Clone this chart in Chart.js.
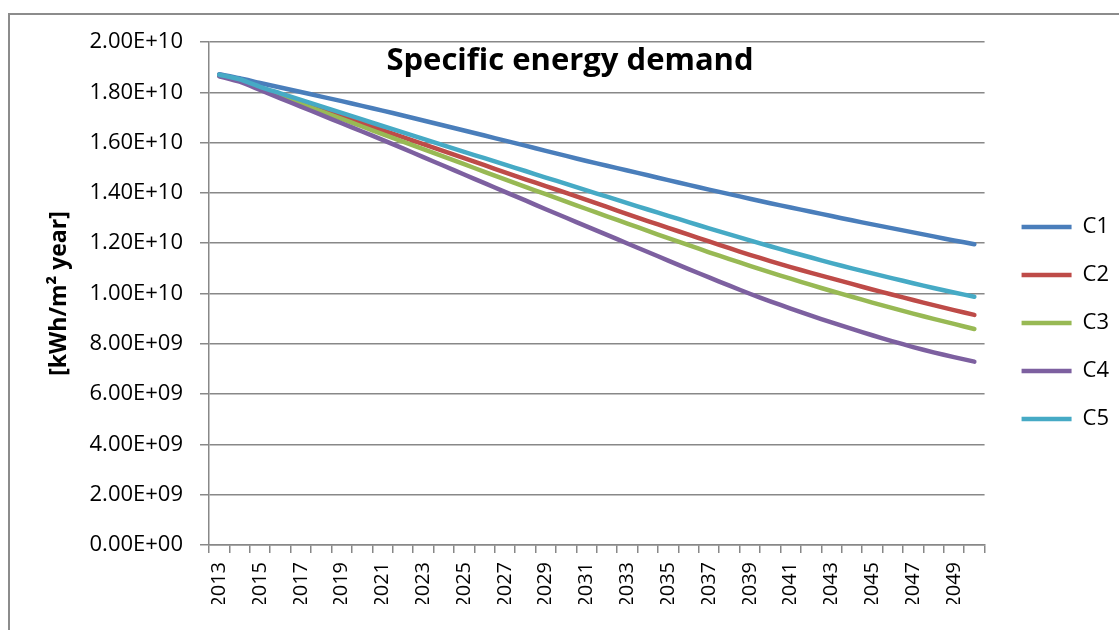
<!DOCTYPE html>
<html>
<head>
<meta charset="utf-8">
<title>Specific energy demand</title>
<script src="https://cdn.jsdelivr.net/npm/chart.js@4/dist/chart.umd.min.js"></script>
<style>
    html, body { margin: 0; padding: 0; background: #ffffff; overflow: hidden; }
    #frame {
        position: absolute;
        left: 8px;
        top: 13px;
        width: 1200px;
        height: 700px;
        border: 2px solid #8c8c8c;
    }
    #chart { position: absolute; left: 0; top: 0; }
</style>
</head>
<body>
<div id="frame"></div>
<canvas id="chart" width="1119" height="630"></canvas>
<script>
/* ---------- DATA ---------- */
let years = [];
for (let y = 2013; y <= 2050; y++) years.push(String(y));

let seriesNames = ["C1", "C2", "C3", "C4", "C5"];
let seriesColors = ["#4a7ebb", "#be4b48", "#98b954", "#7d60a0", "#46aac5"];

// kWh/m² year
let c1 = [18.72e9, 18.56e9, 18.37e9, 18.19e9, 18.01e9, 17.83e9, 17.65e9, 17.46e9, 17.27e9, 17.08e9,
          16.88e9, 16.68e9, 16.48e9, 16.28e9, 16.08e9, 15.88e9, 15.67e9, 15.47e9, 15.27e9, 15.08e9,
          14.89e9, 14.70e9, 14.51e9, 14.32e9, 14.13e9, 13.95e9, 13.77e9, 13.59e9, 13.42e9, 13.25e9,
          13.08e9, 12.91e9, 12.75e9, 12.59e9, 12.43e9, 12.27e9, 12.11e9, 11.96e9];
let c2 = [18.68e9, 18.48e9, 18.18e9, 17.90e9, 17.62e9, 17.34e9, 17.06e9, 16.78e9, 16.50e9, 16.22e9,
          15.94e9, 15.66e9, 15.38e9, 15.10e9, 14.82e9, 14.54e9, 14.27e9, 14.00e9, 13.72e9, 13.44e9,
          13.16e9, 12.88e9, 12.61e9, 12.34e9, 12.07e9, 11.80e9, 11.54e9, 11.29e9, 11.05e9, 10.82e9,
          10.60e9, 10.38e9, 10.16e9, 9.95e9, 9.74e9, 9.54e9, 9.34e9, 9.15e9];
let c3 = [18.66e9, 18.46e9, 18.14e9, 17.84e9, 17.54e9, 17.24e9, 16.94e9, 16.64e9, 16.34e9, 16.04e9,
          15.74e9, 15.44e9, 15.14e9, 14.84e9, 14.54e9, 14.24e9, 13.95e9, 13.65e9, 13.36e9, 13.07e9,
          12.78e9, 12.49e9, 12.20e9, 11.92e9, 11.64e9, 11.37e9, 11.10e9, 10.84e9, 10.59e9, 10.34e9,
          10.10e9, 9.87e9, 9.64e9, 9.42e9, 9.20e9, 8.99e9, 8.79e9, 8.59e9];
let c4 = [18.64e9, 18.42e9, 18.09e9, 17.76e9, 17.43e9, 17.10e9, 16.77e9, 16.44e9, 16.11e9, 15.77e9,
          15.42e9, 15.08e9, 14.73e9, 14.39e9, 14.04e9, 13.70e9, 13.35e9, 13.01e9, 12.67e9, 12.33e9,
          11.99e9, 11.65e9, 11.31e9, 10.97e9, 10.64e9, 10.31e9, 9.99e9, 9.69e9, 9.40e9, 9.12e9,
          8.85e9, 8.59e9, 8.34e9, 8.10e9, 7.87e9, 7.66e9, 7.47e9, 7.29e9];
let c5 = [18.70e9, 18.52e9, 18.22e9, 17.96e9, 17.70e9, 17.44e9, 17.18e9, 16.92e9, 16.66e9, 16.41e9,
          16.15e9, 15.89e9, 15.63e9, 15.38e9, 15.12e9, 14.87e9, 14.61e9, 14.36e9, 14.10e9, 13.85e9,
          13.59e9, 13.34e9, 13.09e9, 12.84e9, 12.59e9, 12.35e9, 12.11e9, 11.88e9, 11.65e9, 11.43e9,
          11.21e9, 11.00e9, 10.80e9, 10.60e9, 10.41e9, 10.22e9, 10.04e9, 9.87e9];
let seriesValues = [c1, c2, c3, c4, c5];

let yMin = 0;
let yMax = 2e10;
let yStep = 2e9;

let chartTitle = "Specific energy demand";
let yTitle = "[kWh/m\u00b2 year]";

/* ---------- HELPERS ---------- */
// 2e10 -> "2.00E+10", 8e9 -> "8.00E+09"
function excelSci(v) {
    let parts = Number(v).toExponential(2).toUpperCase().split("E");
    let exp = parts[1];
    return parts[0] + "E" + exp[0] + exp.slice(1).padStart(2, "0");
}

let gridGrey = "#888888";
let font = "'Open Sans', 'Liberation Sans', sans-serif";
let tickSize = 22;
let xTickSize = 20;

/* ---------- TITLE (drawn over the plot like Excel does) ---------- */
let titlePlugin = {
    id: "overlayTitle",
    afterDraw(chart) {
        let ctx = chart.ctx;
        ctx.save();
        ctx.font = "bold 31px " + font;
        ctx.fillStyle = "#000000";
        ctx.textAlign = "center";
        ctx.textBaseline = "alphabetic";
        ctx.fillText(chartTitle, 570, 70);
        ctx.restore();
    }
};

/* ---------- CHART ---------- */
let datasets = seriesNames.map((name, i) => ({
    label: name,
    data: seriesValues[i],
    borderColor: seriesColors[i],
    backgroundColor: seriesColors[i],
    borderWidth: 4.5,
    borderCapStyle: "round",
    borderJoinStyle: "round",
    pointRadius: 0,
    tension: 0.2,
    order: seriesNames.length - i   // later series on top, like Excel
}));

let ctx = document.getElementById("chart").getContext("2d");

let chart = new Chart(ctx, {
    type: "line",
    data: { labels: years, datasets: datasets },
    plugins: [titlePlugin],
    options: {
        responsive: false,
        animation: false,
        layout: { padding: { left: 40, top: 42, right: 0, bottom: 26 } },
        plugins: {
            title: { display: false },
            tooltip: { enabled: false },
            legend: {
                position: "right",
                labels: {
                    usePointStyle: true,
                    pointStyle: "line",
                    pointStyleWidth: 50,
                    padding: 26,
                    color: "#000000",
                    font: { family: font, size: tickSize },
                    sort: (a, b) => a.datasetIndex - b.datasetIndex
                }
            }
        },
        scales: {
            x: {
                type: "category",
                offset: true,
                afterFit: s => { s.height = 59; },
                grid: {
                    display: true,
                    offset: true,
                    drawOnChartArea: false,
                    drawTicks: true,
                    tickLength: 8,
                    lineWidth: 1.5,
                    color: gridGrey
                },
                border: { display: true, color: gridGrey, width: 1.5 },
                ticks: {
                    autoSkip: false,
                    maxRotation: 90,
                    minRotation: 90,
                    padding: 9,
                    color: "#000000",
                    font: { family: font, size: xTickSize },
                    callback: function (value, index) {
                        return index % 2 === 0 ? this.getLabelForValue(value) : "";
                    }
                }
            },
            y: {
                min: yMin,
                max: yMax,
                afterFit: s => { s.width = 169; },
                grid: {
                    color: gridGrey,
                    lineWidth: 1.5,
                    drawTicks: true,
                    tickLength: 9
                },
                border: { display: true, color: gridGrey, width: 1.5 },
                ticks: {
                    stepSize: yStep,
                    padding: 17,
                    color: "#000000",
                    font: { family: font, size: tickSize },
                    callback: v => excelSci(v)
                },
                title: {
                    display: true,
                    text: yTitle,
                    color: "#000000",
                    font: { family: font, size: 23, weight: "bold" },
                    padding: { top: 6, bottom: 0 }
                }
            },
            spacer: {
                type: "linear",
                position: "right",
                display: true,
                afterFit: s => { s.width = 11; },
                grid: { display: false },
                border: { display: false },
                ticks: { display: false }
            }
        }
    }
});
</script>
</body>
</html>
